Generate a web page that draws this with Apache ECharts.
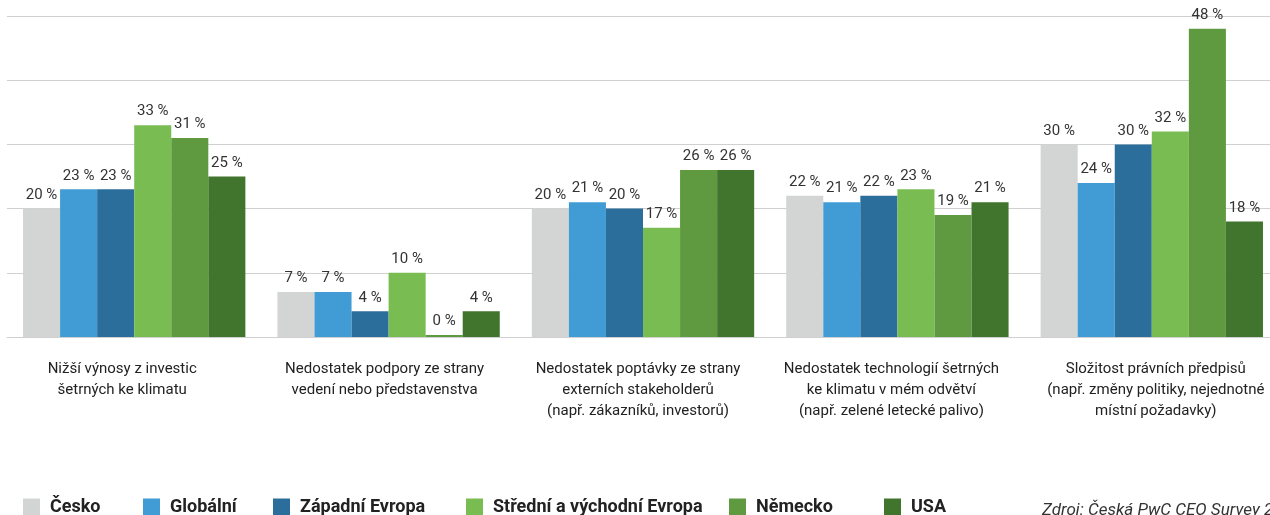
<!DOCTYPE html>
<html>
<head>
<meta charset="utf-8">
<script src="https://cdn.jsdelivr.net/npm/echarts@6/dist/echarts.min.js"></script>
<style>
  html, body { margin: 0; padding: 0; background: #fff; overflow: hidden; }
  #main { width: 1280px; height: 515px; }
</style>
</head>
<body>
<div id="main"></div>
<script>
// kategorie (osa x)
const categories = [
  'Nižší výnosy z investic\nšetrných ke klimatu',
  'Nedostatek podpory ze strany\nvedení nebo představenstva',
  'Nedostatek poptávky ze strany\nexterních stakeholderů\n(např. zákazníků, investorů)',
  'Nedostatek technologií šetrných\nke klimatu v mém odvětví\n(např. zelené letecké palivo)',
  'Složitost právních předpisů\n(např. změny politiky, nejednotné\nmístní požadavky)'
]
const seriesNames = ['Česko', 'Globální', 'Západní Evropa', 'Střední a východní Evropa', 'Německo', 'USA']
const cesko = [20, 7, 20, 22, 30]
const globalni = [23, 7, 21, 21, 24]
const zapadni = [23, 4, 20, 22, 30]
const stredni = [33, 10, 17, 23, 32]
const nemecko = [31, 0, 26, 19, 48]
const usa = [25, 4, 26, 21, 18]
const yTicks = [0, 10, 20, 30, 40, 50]

const colors = ['#d3d4d4', '#419bd5', '#2c6e9b', '#79bd52', '#5f9a40', '#41752e']
const values = [cesko, globalni, zapadni, stredni, nemecko, usa]
const legendLeft = [23, 143, 273, 466, 729, 884]
// posun popisků kategorií vůči středu skupiny (px)
const labelShift = [-12, -4, -5, -6, 4]

const font = 'Roboto, "Open Sans", sans-serif'

const chart = echarts.init(document.getElementById('main'))
const option = {
  animation: false,
  color: colors,
  title: {
    text: 'Zdroj: Česká PwC CEO Survey 2023',
    left: 1037,
    top: 497,
    textStyle: { fontFamily: font, fontSize: 17, fontWeight: 'normal', fontStyle: 'italic', color: '#333' }
  },
  // jedna legenda na položku, kvůli přesnému umístění
  legend: seriesNames.map((name, i) => ({
    data: [name],
    left: legendLeft[i],
    top: 498,
    padding: 0,
    itemWidth: 17,
    itemHeight: 17,
    icon: 'rect',
    selectedMode: false,
    textStyle: { fontFamily: font, fontSize: 18, fontWeight: 'bold', color: '#222', padding: [0, 0, 0, 5] }
  })),
  grid: { left: 7, width: 1272, top: 16, bottom: 178, containLabel: false },
  xAxis: {
    type: 'category',
    data: categories.map((c, i) => ({
      value: c,
      textStyle: {
        padding: labelShift[i] < 0 ? [0, -2 * labelShift[i], 0, 0] : [0, 0, 0, 2 * labelShift[i]]
      }
    })),
    axisLine: { lineStyle: { color: '#d0d0d0' } },
    axisTick: { show: false },
    axisLabel: { interval: 0, fontFamily: font, fontSize: 15, color: '#222', lineHeight: 21, margin: 22 }
  },
  yAxis: {
    type: 'value',
    min: yTicks[0],
    max: yTicks[yTicks.length - 1],
    interval: 10,
    axisLabel: { show: false },
    axisLine: { show: false },
    axisTick: { show: false },
    splitLine: { lineStyle: { color: '#d0d0d0' } }
  },
  series: seriesNames.map((name, i) => ({
    name: name,
    type: 'bar',
    data: values[i],
    barGap: '0%',
    barCategoryGap: '12.6%',
    barMinHeight: i === 4 ? 2 : 0,
    label: {
      show: true,
      position: 'top',
      distance: 6,
      formatter: '{c} %',
      fontFamily: font,
      fontSize: 15,
      color: '#333'
    }
  }))
}
chart.setOption(option)
</script>
</body>
</html>
